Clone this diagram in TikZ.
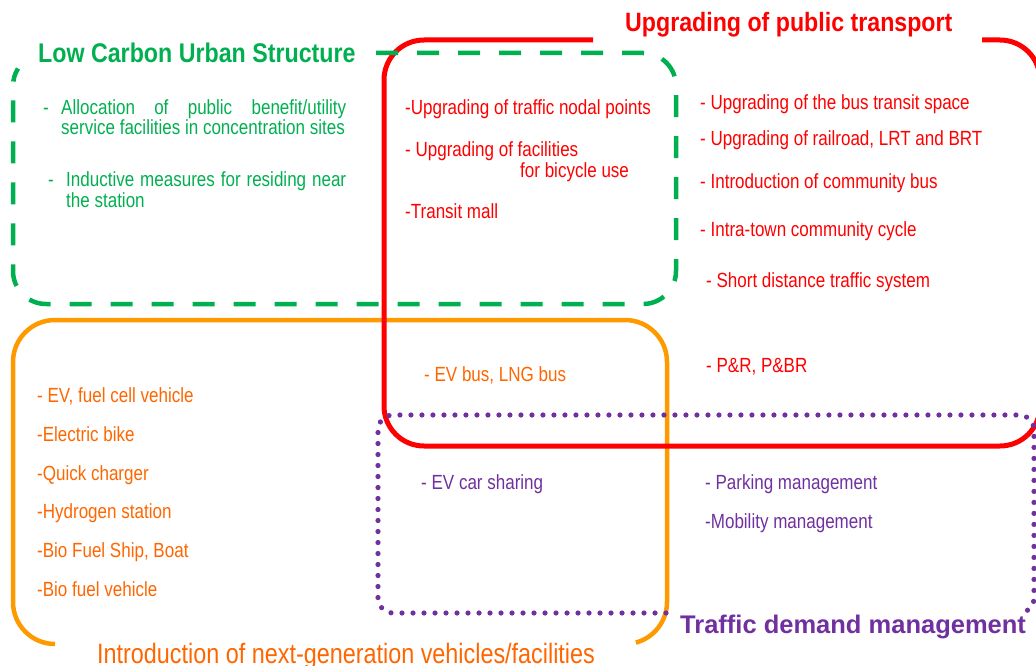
\documentclass[tikz,border=0pt]{standalone}
\usepackage{fontspec}
\setmainfont{Liberation Sans}
\newfontfamily\bodyf{Liberation Sans}[FakeStretch=0.83]
\newfontfamily\gtitlef{Liberation Sans}[FakeStretch=0.86]
\newfontfamily\rtitlef{Liberation Sans}[FakeStretch=0.875]
\newfontfamily\otitlef{Liberation Sans}[FakeStretch=0.835]
\definecolor{cgreen}{HTML}{00B050}
\definecolor{cred}{HTML}{FF0000}
\definecolor{corange}{HTML}{FF9900}
\definecolor{cotext}{HTML}{FF6600}
\definecolor{cpurple}{HTML}{7030A0}
\tikzset{
  greenline/.style={draw=cgreen, line width=4.5pt, dash pattern=on 22pt off 19pt},
  redline/.style={draw=cred, line width=5pt},
  orangeline/.style={draw=corange, line width=4.5pt},
  purpleline/.style={draw=cpurple, line width=5.2pt, line cap=round, dash pattern=on 0pt off 11pt},
  txt/.style={anchor=base west, inner sep=0pt, font=\bodyf\fontsize{20.5}{24}\selectfont},
  gtxt/.style={txt, text=cgreen},
  rtxt/.style={txt, text=cred},
  otxt/.style={txt, text=cotext},
  ptxt/.style={txt, text=cpurple},
}
\begin{document}
\begin{tikzpicture}[x=1pt, y=-1pt]
\useasboundingbox (0,0) rectangle (1036,666);
% orange box
\draw[orangeline] (55,644) arc[start angle=90, end angle=180, radius=42] -- (13,362)
  arc[start angle=180, end angle=270, radius=42] -- (625,320)
  arc[start angle=270, end angle=360, radius=42] -- (667,602)
  arc[start angle=0, end angle=75, radius=42];
% red box
\draw[redline] (593,40) -- (424,40) arc[start angle=270, end angle=180, radius=40] -- (384,406)
  arc[start angle=180, end angle=90, radius=40] -- (1000,446)
  arc[start angle=90, end angle=0, radius=40] -- (1040,80)
  arc[start angle=0, end angle=-90, radius=40] -- (982,40);
% green box
\draw[greenline] (376,53) -- (643,53) arc[start angle=-90, end angle=0, radius=33] -- (676,271)
  arc[start angle=0, end angle=90, radius=33] -- (46,304)
  arc[start angle=90, end angle=180, radius=33] -- (13,86)
  arc[start angle=180, end angle=212, radius=33];
% purple box
\draw[purpleline] (666,613) -- (393,613) arc[start angle=90, end angle=180, radius=15] -- (378,430)
  arc[start angle=180, end angle=270, radius=15] -- (1019,415)
  arc[start angle=270, end angle=360, radius=15] -- (1034,598)
  arc[start angle=0, end angle=60, radius=15];
% titles
\node[anchor=base west, inner sep=0pt, text=cgreen, font=\gtitlef\bfseries\fontsize{27}{30}\selectfont] (tgreen) at (38,63) {Low Carbon Urban Structure};
\node[anchor=base west, inner sep=0pt, text=cred, font=\rtitlef\bfseries\fontsize{26.5}{30}\selectfont] (tred) at (625,32) {Upgrading of public transport};
\node[anchor=base west, inner sep=0pt, text=cpurple, font=\bfseries\fontsize{25.5}{30}\selectfont] (tpurple) at (680,633) {Traffic demand management};
\node[anchor=base west, inner sep=0pt, text=cotext, font=\otitlef\fontsize{28}{32}\selectfont] (torange) at (97,663) {Introduction of next-generation vehicles/facilities};
% green texts
\node[gtxt] (g1d) at (43,115) {-};
\node[gtxt] (g1a) at (61,115) {\makebox[285pt][s]{Allocation of public benefit/utility}};
\node[gtxt] (g1b) at (61,135) {service facilities in concentration sites};
\node[gtxt] (g2d) at (48,186) {-};
\node[gtxt] (g2a) at (66,186) {\makebox[280pt][s]{Inductive measures for residing near}};
\node[gtxt] (g2b) at (66,207) {the station};
% red texts left
\node[rtxt] (r1) at (405,115) {-Upgrading of traffic nodal points};
\node[rtxt] (r2) at (405,157) {- Upgrading of facilities};
\node[rtxt] (r2b) at (520,177) {for bicycle use};
\node[rtxt] (r3) at (405,218) {-Transit mall};
% red texts right
\node[rtxt] (r4) at (700,110) {- Upgrading of the bus transit space};
\node[rtxt] (r5) at (700,146) {- Upgrading of railroad, LRT and BRT};
\node[rtxt] (r6) at (700,188) {- Introduction of community bus};
\node[rtxt] (r7) at (700,236) {- Intra-town community cycle};
\node[rtxt] (r8) at (706,287) {- Short distance traffic system};
\node[rtxt] (r9) at (706,372) {- P\&R, P\&BR};
% orange texts
\node[otxt] (o0) at (424,381) {- EV bus, LNG bus};
\node[otxt] (o1) at (37,402) {- EV, fuel cell vehicle};
\node[otxt] (o2) at (37,441) {-Electric bike};
\node[otxt] (o3) at (37,480) {-Quick charger};
\node[otxt] (o4) at (37,518) {-Hydrogen station};
\node[otxt] (o5) at (37,557) {-Bio Fuel Ship, Boat};
\node[otxt] (o6) at (37,596) {-Bio fuel vehicle};
% purple texts
\node[ptxt] (p1) at (421,489) {- EV car sharing};
\node[ptxt] (p2) at (705,489) {- Parking management};
\node[ptxt] (p3) at (705,528) {-Mobility management};
\end{tikzpicture}
\end{document}
